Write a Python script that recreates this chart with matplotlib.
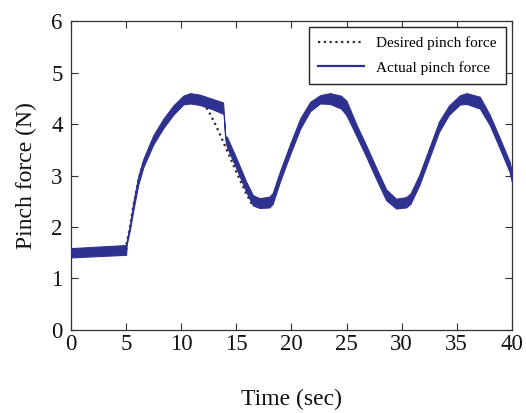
import matplotlib
matplotlib.use("Agg")
import matplotlib.pyplot as plt
import numpy as np

# desired pinch force (dotted reference)
t_desired = [0, 5.0, 5.05, 5.35, 5.65, 6.1, 6.56, 7.46, 8.37, 9.28, 10.18,
             10.8, 11.7, 12.45, 13.2, 13.8, 14.4, 15.0, 15.9, 16.4, 17.0, 17.6,
             18.3, 18.96, 19.86, 20.8, 21.7, 22.6, 23.5, 24.5, 25.0, 25.9, 26.8,
             27.7, 28.6, 29.5, 30.4, 30.8, 31.6, 32.5, 33.4, 34.3, 35.3, 35.9,
             37.1, 38.0, 38.9, 39.8, 40]
f_desired = [1.5, 1.5, 1.69, 2.0, 2.4, 2.9, 3.24, 3.69, 4.01, 4.27, 4.46, 4.5,
             4.45, 4.27, 3.95, 3.66, 3.37, 3.07, 2.65, 2.45, 2.42, 2.45, 2.55,
             2.98, 3.5, 4.01, 4.34, 4.48, 4.5, 4.43, 4.31, 3.88, 3.47, 3.04,
             2.62, 2.45, 2.48, 2.55, 2.91, 3.43, 3.95, 4.27, 4.47, 4.5, 4.42,
             4.08, 3.63, 3.17, 2.98]

# actual pinch force: upper / lower edge of the rippling band
t_actual = [0, 5.0, 5.05, 5.35, 5.65, 6.1, 6.56, 7.46, 8.37, 9.28, 10.18, 10.8,
            11.7, 12.8, 13.8, 13.85, 14.0, 14.15, 15.0, 15.9, 16.5, 17.1, 18.0,
            18.3, 18.96, 19.86, 20.8, 21.7, 22.6, 23.5, 24.5, 25.0, 25.9, 26.8,
            27.7, 28.6, 29.5, 30.4, 30.8, 31.6, 32.5, 33.4, 34.3, 35.3, 35.9,
            37.1, 38.0, 38.9, 39.8, 40.0]
f_actual_hi = [1.59, 1.65, 1.72, 2.05, 2.48, 2.98, 3.32, 3.78, 4.1, 4.36, 4.55,
               4.6, 4.57, 4.49, 4.42, 4.25, 3.76, 3.75, 3.34, 2.88, 2.62, 2.56,
               2.59, 2.66, 3.08, 3.6, 4.11, 4.43, 4.56, 4.6, 4.55, 4.45, 3.99,
               3.58, 3.15, 2.73, 2.55, 2.58, 2.65, 3.01, 3.53, 4.05, 4.36, 4.56,
               4.6, 4.53, 4.18, 3.73, 3.27, 3.08]
f_actual_lo = [1.41, 1.46, 1.66, 1.95, 2.32, 2.82, 3.16, 3.6, 3.92, 4.18, 4.38,
               4.4, 4.37, 4.29, 4.2, 4.2, 3.7, 3.55, 3.14, 2.68, 2.42, 2.37,
               2.38, 2.45, 2.88, 3.4, 3.91, 4.25, 4.4, 4.39, 4.3, 4.17, 3.77,
               3.36, 2.93, 2.52, 2.36, 2.38, 2.45, 2.81, 3.33, 3.85, 4.18, 4.38,
               4.39, 4.3, 3.98, 3.53, 3.07, 2.88]

x_ticks = [0, 5, 10, 15, 20, 25, 30, 35, 40]
y_ticks = [0, 1, 2, 3, 4, 5, 6]

plt.rcParams['font.family'] = ['Liberation Serif', 'DejaVu Serif']

navy = '#2e3190'
edge = '#333333'

fig = plt.figure(figsize=(5.26, 4.13), dpi=100)
ax = fig.add_axes([0.135, 0.201, 0.838, 0.748])

ax.plot(t_desired, f_desired, linestyle=(0, (1, 1.6)), color='#3a2a20',
        linewidth=1.6, label='Desired pinch force', zorder=2)
ax.fill_between(t_actual, f_actual_lo, f_actual_hi, color=navy,
                linewidth=0.8, edgecolor=navy, zorder=3)
ax.plot([], [], color=navy, linewidth=1.6, label='Actual pinch force')

ax.set_xlim(0, 40)
ax.set_ylim(0, 6)
ax.set_xticks(x_ticks)
ax.set_yticks(y_ticks)
ax.tick_params(direction='in', top=True, right=True, length=5, width=0.8,
               labelsize=16.5, colors=edge, labelcolor='#111111')
ax.tick_params(axis='x', pad=3)
ax.tick_params(axis='y', pad=6)
for s in ax.spines.values():
    s.set_color(edge)
    s.set_linewidth(0.9)

ax.set_xlabel('Time (sec)', fontsize=17, labelpad=24, color='#111111')
ax.set_ylabel('Pinch force (N)', fontsize=17, labelpad=10, color='#111111')

leg = ax.legend(loc='upper right', fontsize=11, fancybox=False,
                framealpha=1, edgecolor='#222222', handlelength=3.0,
                borderpad=0.6, labelspacing=0.7, borderaxespad=0.4)
leg.get_frame().set_linewidth(1.0)

fig.savefig('out.png', dpi=100)
